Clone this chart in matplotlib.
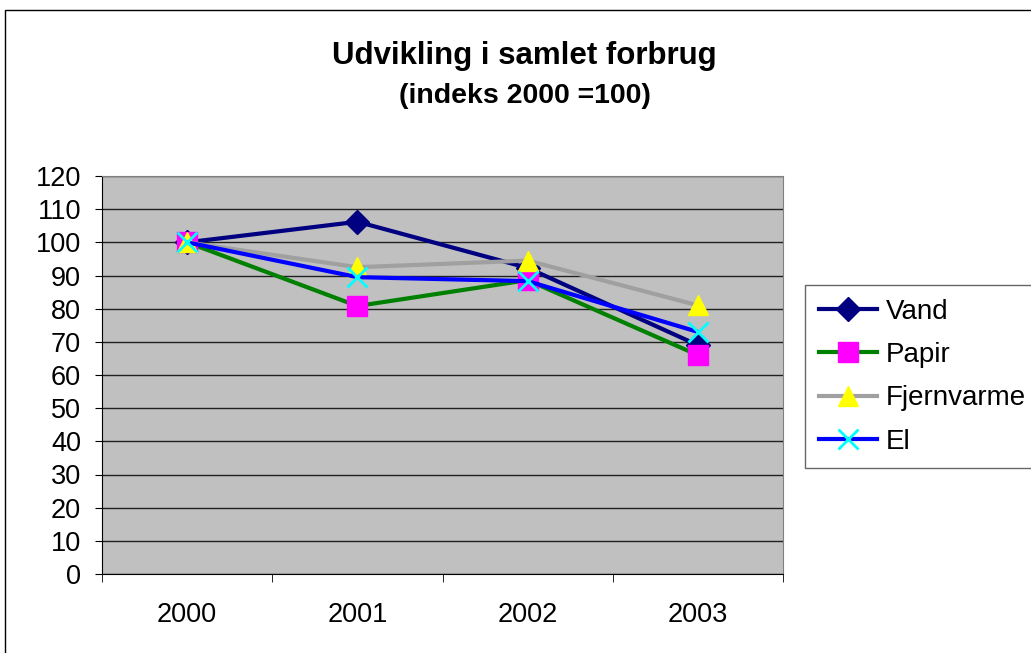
import matplotlib
matplotlib.use("Agg")
import matplotlib.pyplot as plt
from matplotlib.patches import Rectangle
import numpy as np

plt.rcParams['font.family'] = ['Liberation Sans', 'DejaVu Sans']

years = ["2000", "2001", "2002", "2003"]
vand = [100, 106.2, 92.3, 69]
papir = [100, 80.8, 88.6, 66]
fjernvarme = [100, 92.5, 94.5, 81]
el = [100, 89.5, 88.3, 73]

fig = plt.figure(figsize=(10.31, 6.53), dpi=100)
fig.patch.set_facecolor('white')

# chart area border (runs off the right and bottom edges)
fig.patches.append(Rectangle((5 / 1031, -0.1), 1.2, 1 - 10 / 653 + 0.1,
                             transform=fig.transFigure, fill=False,
                             edgecolor='black', linewidth=1.0, zorder=0))

ax = fig.add_axes([102 / 1031, 79 / 653, 681 / 1031, 398 / 653])
ax.set_facecolor('#C0C0C0')

x = np.arange(len(years))
ax.plot(x, vand, color='#000080', lw=3, marker='D', ms=12,
        mfc='#000080', mec='#000080', label='Vand', zorder=3)
ax.plot(x, papir, color='#008000', lw=3, marker='s', ms=15,
        mfc='#FF00FF', mec='#FF00FF', label='Papir', zorder=3)
ax.plot(x, fjernvarme, color='#A0A0A0', lw=3, marker='^', ms=15,
        mfc='#FFFF00', mec='#FFFF00', label='Fjernvarme', zorder=3)
ax.plot(x, el, color='#0000FF', lw=3, marker='x', ms=14, mew=2,
        mfc='#00FFFF', mec='#00FFFF', label='El', zorder=3)

ax.set_xlim(-0.5, len(years) - 0.5)
ax.set_ylim(0, 120)
ax.set_yticks(np.arange(0, 121, 10))
ax.yaxis.grid(True, color='#202020', lw=1)
ax.set_axisbelow(True)

ax.set_xticks(x)
ax.set_xticklabels(years)
ax.set_xticks(np.arange(-0.5, len(years), 1), minor=True)
ax.tick_params(axis='x', which='major', length=0, pad=20, labelsize=19.5)
ax.tick_params(axis='x', which='minor', length=6, color='black', direction='out')
ax.tick_params(axis='y', length=5, direction='out', labelsize=19.5, pad=10)

for s in ['top', 'right']:
    ax.spines[s].set_color('#808080')
for s in ['left', 'bottom']:
    ax.spines[s].set_color('black')

fig.text(0.509, 1 - 56 / 653, "Udvikling i samlet forbrug", ha='center', va='center',
         fontsize=22.5, fontweight='bold')
fig.text(0.509, 1 - 96 / 653, "(indeks 2000 =100)", ha='center', va='center',
         fontsize=20.5, fontweight='bold')

leg = fig.legend(loc='upper left', bbox_to_anchor=(805 / 1031, 1 - 285 / 653),
                 fontsize=20, frameon=True, fancybox=False, edgecolor='#404040',
                 handlelength=2.1, handletextpad=0.3, borderpad=0.5,
                 labelspacing=0.62, borderaxespad=0)
leg.get_frame().set_linewidth(1.0)

fig.savefig("out.png", dpi=100)
